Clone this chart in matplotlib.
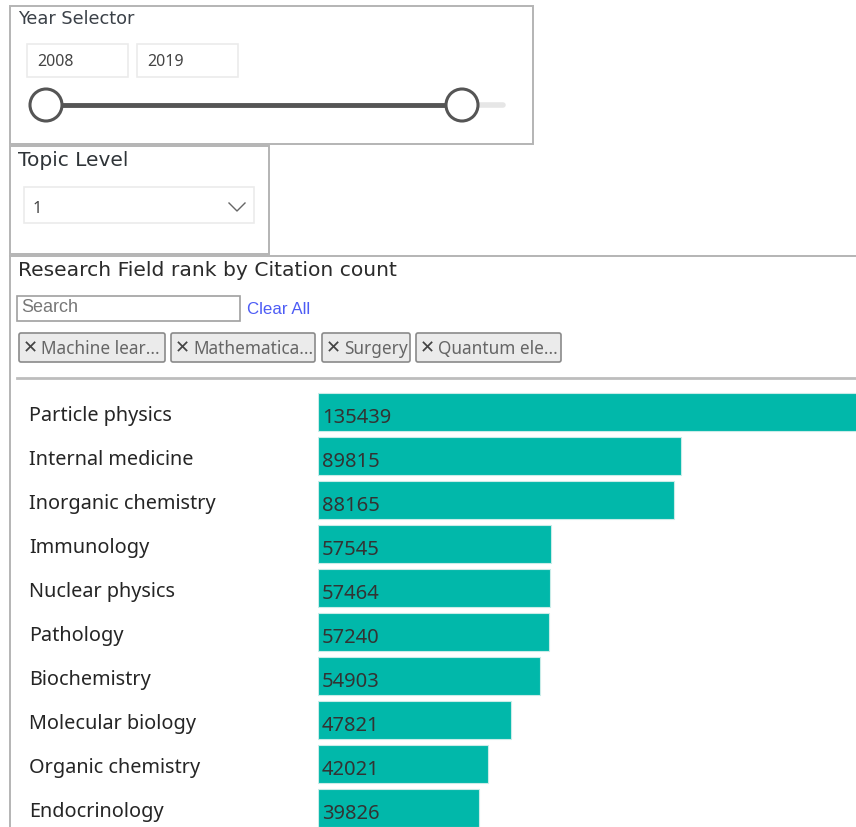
import matplotlib
matplotlib.use("Agg")
import matplotlib.pyplot as plt
import matplotlib.transforms as mtransforms
from matplotlib.patches import Rectangle, Circle, FancyBboxPatch

# ---- data ----
fields = ["Particle physics", "Internal medicine", "Inorganic chemistry", "Immunology",
          "Nuclear physics", "Pathology", "Biochemistry", "Molecular biology",
          "Organic chemistry", "Endocrinology"]
citations = [135439, 89815, 88165, 57545, 57464, 57240, 54903, 47821, 42021, 39826]
year_range = ["2008", "2019"]
topic_level = "1"
chips = ["Machine lear...", "Mathematica...", "Surgery", "Quantum ele..."]

W, H = 856, 827
fig = plt.figure(figsize=(W / 100, H / 100), dpi=100)
fig.patch.set_facecolor("white")

# overlay axes in pixel coordinates for the slicer widgets
ov = fig.add_axes([0, 0, 1, 1])
ov.set_xlim(0, W)
ov.set_ylim(H, 0)
ov.axis("off")

BORDER = "#c8c8c8"

def box(x0, y0, x1, y1, ec=BORDER, fc="none", lw=1.2, z=1):
    ov.add_patch(Rectangle((x0, y0), x1 - x0, y1 - y0, ec=ec, fc=fc, lw=lw, zorder=z))

# Year selector panel
box(10, 6, 533, 144, ec="#b4b4b4", lw=1.4)
ov.text(18, 19, "Year Selector", fontsize=12.8, color="#3b4148", va="center", ha="left",
        family="DejaVu Sans")
box(27, 44, 128, 77, ec="#ebebeb", lw=1.2)
box(137, 44, 238, 77, ec="#ebebeb", lw=1.2)
ov.text(37, 62, year_range[0], fontsize=11.5, color="#444444", va="center", family="Noto Sans")
ov.text(147, 62, year_range[1], fontsize=11.5, color="#444444", va="center", family="Noto Sans")
ov.plot([462, 503], [105, 105], color="#e6e6e6", lw=4, solid_capstyle="round", zorder=2)
ov.plot([46, 462], [105, 105], color="#555555", lw=3.5, zorder=3)
for cx in (46, 462):
    ov.add_patch(Circle((cx, 105), 16, fc="white", ec="#555555", lw=2.2, zorder=4))

# Topic level panel
box(10, 146, 269, 254, ec="#b4b4b4", lw=1.4)
ov.text(18, 160, "Topic Level", fontsize=14.5, color="#2f3438", va="center", family="DejaVu Sans")
box(24, 187, 254, 223, ec="#ebebeb", lw=1.2)
ov.text(33, 209, topic_level, fontsize=11.5, color="#444444", va="center", family="Noto Sans")
ov.plot([229, 237, 245], [203, 211, 203], color="#666666", lw=1.0)

# Research field panel
ov.plot([10, 10], [256, H], color="#b4b4b4", lw=1.4)
ov.plot([10, W], [256, 256], color="#b4b4b4", lw=1.4)
ov.text(18, 271, "Research Field rank by Citation count", fontsize=14.6, color="#2b2b2b",
        va="center", family="DejaVu Sans")
box(17, 296, 240, 321, ec="#a0a0a0", lw=1.2)
ov.text(21, 308, "Search", fontsize=13, color="#777777", va="center", family="Liberation Sans")
ov.text(247, 310, "Clear All", fontsize=12.2, color="#4d5cf5", va="center", family="Liberation Sans")
chip_x = [(19, 165), (171, 315), (322, 410), (416, 561)]
for (x0, x1), label in zip(chip_x, chips):
    ov.add_patch(FancyBboxPatch((x0, 333), x1 - x0, 29, boxstyle="round,pad=0,rounding_size=2",
                                fc="#ebebeb", ec="#8a8a8a", lw=1.2))
    ov.text(x0 + 4, 348, "\u2715", fontsize=13, color="#444444", va="center",
            family="DejaVu Sans", fontweight="bold")
    ov.text(x0 + 22, 349, label, fontsize=12.4, color="#666666", va="center", family="Noto Sans")
ov.plot([17, W], [378, 378], color="#bdbdbd", lw=2)

# bar chart axes
x_left, x_right = 318, 856
y_top, y_bot = 390, 827
ax = fig.add_axes([x_left / W, 1 - y_bot / H, (x_right - x_left) / W, (y_bot - y_top) / H])
ypos = list(range(len(fields)))
ax.barh(ypos, citations, height=0.86, color="#01B8AA", edgecolor="#c9ece8", lw=0.8)
px_per_unit = (681 - 318) / 89815
ax.set_xlim(0, (x_right - x_left) / px_per_unit)
ax.set_ylim((y_bot - 412) / 44, -(412 - y_top) / 44)
ax.axis("off")
trans = mtransforms.blended_transform_factory(ax.transAxes, ax.transData)
lab_x = (29 - x_left) / (x_right - x_left)
for i, (f, v) in enumerate(zip(fields, citations)):
    ax.text(lab_x, i + 0.08, f, transform=trans, fontsize=14.3, color="#252525", va="center",
            ha="left", family="Noto Sans", clip_on=False)
    ax.text(4 / px_per_unit, i + 0.14, str(v), fontsize=14.5, color="#333333", va="center",
            ha="left", family="Noto Sans")

fig.savefig("out.png", dpi=100, facecolor="white")
